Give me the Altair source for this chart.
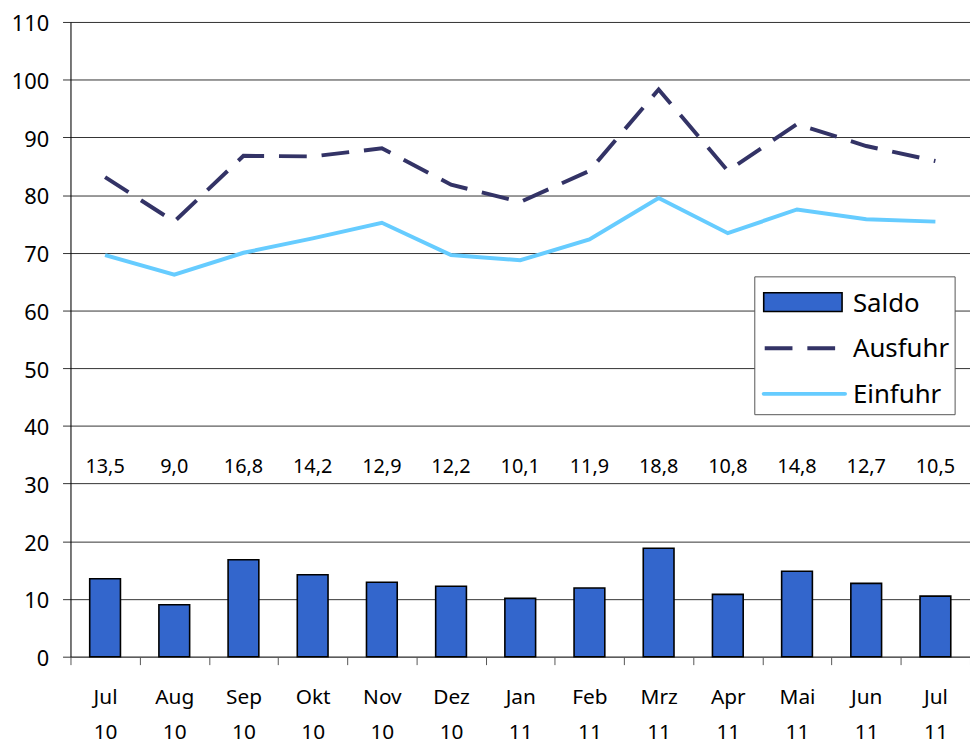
import altair as alt
import pandas as pd

months = ["Jul 10", "Aug 10", "Sep 10", "Okt 10", "Nov 10", "Dez 10", "Jan 11",
          "Feb 11", "Mrz 11", "Apr 11", "Mai 11", "Jun 11", "Jul 11"]
saldo = [13.5, 9.0, 16.8, 14.2, 12.9, 12.2, 10.1, 11.9, 18.8, 10.8, 14.8, 12.7, 10.5]
ausfuhr = [83.1, 75.4, 86.8, 86.7, 88.1, 81.8, 78.8, 84.2, 98.3, 84.2, 92.3, 88.5, 85.9]
einfuhr = [69.6, 66.2, 70.0, 72.5, 75.2, 69.6, 68.7, 72.3, 79.5, 73.4, 77.5, 75.8, 75.4]
y_ticks = [0, 10, 20, 30, 40, 50, 60, 70, 80, 90, 100, 110]

FONT = "Noto Sans"

df = pd.DataFrame({"Monat": months, "Saldo": saldo, "Ausfuhr": ausfuhr, "Einfuhr": einfuhr})

x = alt.X("Monat:N", sort=months, title=None,
          scale=alt.Scale(paddingInner=0, paddingOuter=0),
          axis=alt.Axis(labelExpr="split(datum.label, ' ')", labelAngle=0,
                        labelFontSize=21, labelFont=FONT, labelColor="#000",
                        labelLineHeight=36, labelPadding=22, labelBaseline="top",
                        tickBand="extent", tickSize=8, tickColor="#555",
                        domainColor="#555", grid=False))

yscale = alt.Scale(domain=[0, 110], nice=False)
yaxis = alt.Axis(values=y_ticks, labelFontSize=22, labelFont=FONT, labelColor="#000",
                 labelPadding=14, labelOffset=2, tickSize=8, tickColor="#333",
                 domainColor="#000", grid=True, gridColor="#333", gridWidth=1, title=None)

base = alt.Chart(df)

bars = base.mark_bar(width=31, fill="#3366CC", stroke="#000", strokeWidth=1.6).encode(
    x=x, y=alt.Y("Saldo:Q", scale=yscale, axis=yaxis))

aus = base.mark_line(color="#333366", strokeWidth=4, strokeDash=[28, 15]).encode(
    x=x, y=alt.Y("Ausfuhr:Q", scale=yscale))

ein = base.mark_line(color="#66CCFF", strokeWidth=4).encode(
    x=x, y=alt.Y("Einfuhr:Q", scale=yscale))

labels = base.transform_calculate(
    lbl="replace(format(datum.Saldo, '.1f'), '.', ',')"
).mark_text(fontSize=20, font=FONT, color="#000", baseline="middle").encode(
    x=x, y=alt.datum(32.8), text="lbl:N")

one = alt.Chart(pd.DataFrame({"k": [0]}))
leg_box = one.mark_rect(fill="white", stroke="#555", strokeWidth=1).encode(
    x=alt.value(690), x2=alt.value(892), y=alt.value(257), y2=alt.value(396))
leg_bar = one.mark_rect(fill="#3366CC", stroke="#000", strokeWidth=1.6).encode(
    x=alt.value(699), x2=alt.value(778), y=alt.value(273), y2=alt.value(292))
leg_aus = one.mark_rule(color="#333366", strokeWidth=4, strokeDash=[28, 15]).encode(
    x=alt.value(700), x2=alt.value(772), y=alt.value(329))
leg_ein = one.mark_rule(color="#66CCFF", strokeWidth=4, strokeCap="round").encode(
    x=alt.value(699), x2=alt.value(781), y=alt.value(375))
leg_txt = []
for name, yy in [("Saldo", 284), ("Ausfuhr", 330), ("Einfuhr", 376)]:
    leg_txt.append(one.mark_text(fontSize=26, font=FONT, color="#000", align="left",
                                 baseline="middle").encode(
        x=alt.value(789), y=alt.value(yy), text=alt.value(name)))

chart = alt.layer(bars, aus, ein, labels, leg_box, leg_bar, leg_aus, leg_ein, *leg_txt).properties(
    width=907, height=640,
    autosize=alt.AutoSizeParams(type="none"),
    padding={"left": 63, "top": 11, "right": 0, "bottom": 90},
).configure_view(stroke=None).configure(background="white")

chart.save("out.html", embed_options={"renderer": "svg", "actions": False})
